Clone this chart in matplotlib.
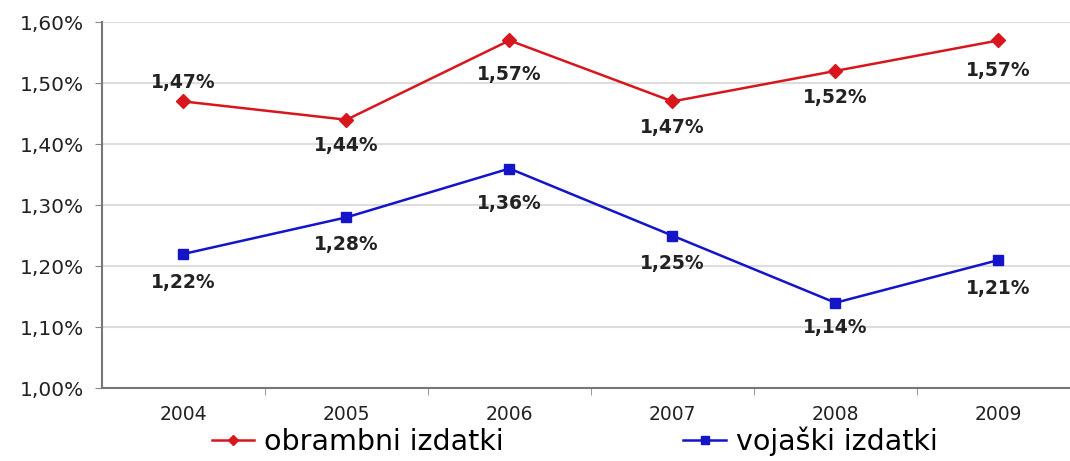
import matplotlib
matplotlib.use("Agg")
import matplotlib.pyplot as plt

plt.rcParams['font.family'] = ['DejaVu Sans']

years = ["2004", "2005", "2006", "2007", "2008", "2009"]
obrambni = [1.47, 1.44, 1.57, 1.47, 1.52, 1.57]
vojaski = [1.22, 1.28, 1.36, 1.25, 1.14, 1.21]

# label offsets in points (positive = above the marker)
obrambni_off = [7, -12, -18, -12, -12, -15]
vojaski_off = [-14, -13, -18, -13, -11, -14]

red = '#D8161E'
blue = '#1414C8'

fig = plt.figure(figsize=(10.7, 4.61), dpi=100)
ax = fig.add_axes([0.0953, 0.158, 0.914, 0.794])

x = list(range(len(years)))
ax.plot(x, obrambni, color=red, lw=1.8, marker='D', ms=7, label='obrambni izdatki')
ax.plot(x, vojaski, color=blue, lw=1.8, marker='s', ms=7, label='vojaški izdatki')

def fmt(v):
    return f"{v:.2f}%".replace('.', ',')

for vals, offs in [(obrambni, obrambni_off), (vojaski, vojaski_off)]:
    for i, v in enumerate(vals):
        ax.annotate(fmt(v), (i, v), xytext=(0, offs[i]), textcoords='offset points',
                    ha='center', va='bottom' if offs[i] > 0 else 'top',
                    fontsize=13.5, fontweight='bold', color='#222222')

ax.set_xlim(-0.5, len(years) - 0.5)
ax.set_ylim(1.0, 1.6)
yt = [1.0, 1.1, 1.2, 1.3, 1.4, 1.5, 1.6]
ax.set_yticks(yt)
ax.set_yticklabels([fmt(t) for t in yt], fontsize=14.5, color='#222222')
ax.set_xticks(x)
ax.set_xticklabels(years, fontsize=13.5, color='#222222')
ax.set_xticks([i + 0.5 for i in x[:-1]], minor=True)
ax.tick_params(axis='x', which='major', length=0, pad=12)
ax.tick_params(axis='x', which='minor', length=5, color='#888888')
ax.tick_params(axis='y', length=5, color='#888888', pad=8)
ax.grid(axis='y', color='#DDDDDD', lw=1.5)
ax.set_axisbelow(True)
for s in ['top', 'right']:
    ax.spines[s].set_visible(False)
for s in ['left', 'bottom']:
    ax.spines[s].set_color('#777777')
    ax.spines[s].set_linewidth(1.5)

fig.legend(loc='lower center', bbox_to_anchor=(0.537, -0.045), ncol=2, frameon=False,
           fontsize=20.5, handlelength=1.5, columnspacing=6.3, handletextpad=0.35,
           markerscale=0.8)

fig.savefig('out.png', dpi=100)
